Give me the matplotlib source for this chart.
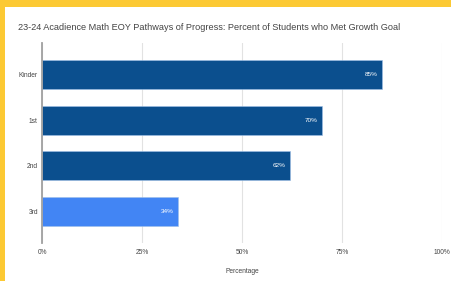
import matplotlib
matplotlib.use('Agg')
import matplotlib.pyplot as plt
from matplotlib.patches import Rectangle

grades = ['Kinder', '1st', '2nd', '3rd']
met_goal = [85, 70, 62, 34]
bar_colors = ['#0b4f8e', '#0b4f8e', '#0b4f8e', '#4285f4']
xticks = [0, 25, 50, 75, 100]

plt.rcParams['font.family'] = ['Liberation Sans', 'DejaVu Sans']

fig = plt.figure(figsize=(4.52, 2.81), dpi=100)
fig.patch.set_facecolor('#fcc933')
# white card over the yellow frame
fig.patches.append(Rectangle((5 / 452, 0), 1, 1 - 7 / 281, transform=fig.transFigure,
                             facecolor='white', edgecolor='none', zorder=-5))

ax = fig.add_axes([42 / 452, 1 - 243 / 281, 400 / 452, 200 / 281])
ax.set_zorder(2)
ax.set_facecolor('none')

y = list(range(len(grades)))
bars = ax.barh(y, met_goal, height=0.63, color=bar_colors, edgecolor='#9fc0e8', linewidth=0.4, zorder=3)
for b, v in zip(bars, met_goal):
    ax.text(v - 1.2, b.get_y() + b.get_height() / 2, f'{v}%', color='white', fontsize=4.6,
            ha='right', va='center', zorder=4)

ax.set_xlim(0, 100)
ax.set_ylim(3.68, -0.68)
ax.set_xticks(xticks)
ax.set_xticklabels([f'{t}%' for t in xticks])
ax.set_yticks(y)
ax.set_yticklabels(grades)
ax.tick_params(length=0, labelsize=4.8, labelcolor='#444444')
ax.tick_params(axis='x', pad=4)
ax.tick_params(axis='y', pad=3)
ax.grid(axis='x', color='#e2e2e2', linewidth=0.8, zorder=0)
for s in ['top', 'right', 'bottom']:
    ax.spines[s].set_visible(False)
ax.spines['left'].set_color('#a0a0a0')
ax.spines['left'].set_linewidth(1.3)
ax.spines['left'].set_zorder(5)

ax.set_xlabel('Percentage', fontsize=4.8, color='#444444', labelpad=9)
fig.text(18 / 452, 1 - 27 / 281, '23-24 Acadience Math EOY Pathways of Progress: Percent of Students who Met Growth Goal',
         fontsize=6.6, color='#444444', ha='left', va='center')

fig.savefig('out.png', dpi=100, facecolor=fig.get_facecolor())
